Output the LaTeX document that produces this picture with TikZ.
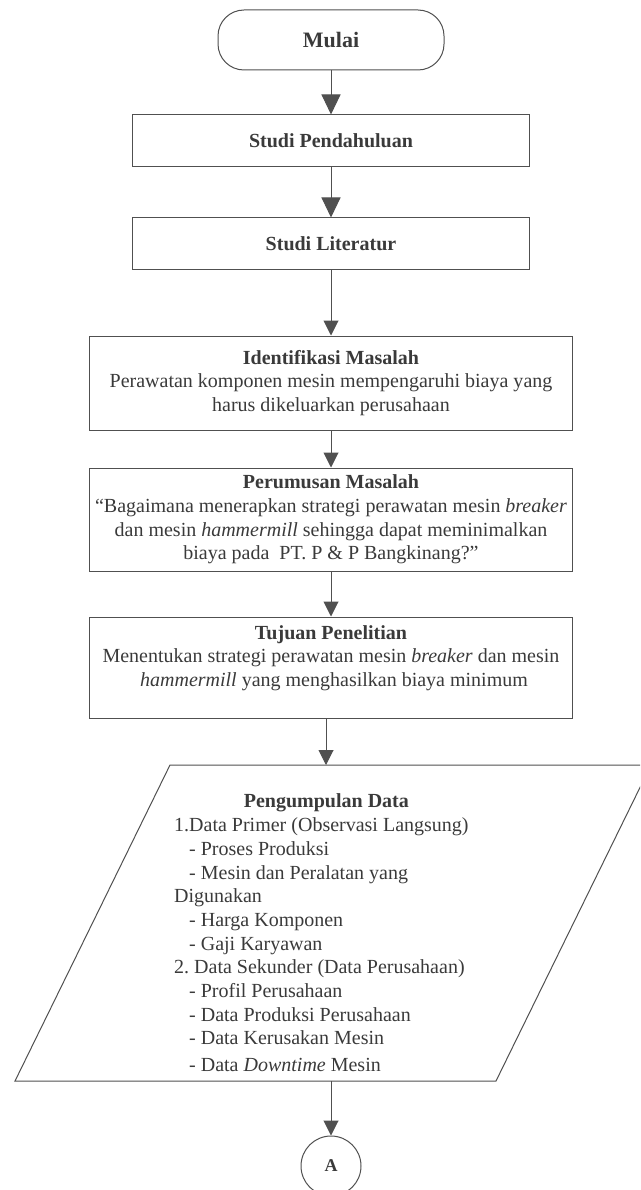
\documentclass[tikz,border=0pt]{standalone}
\usepackage{fontspec}
\setmainfont{Liberation Serif}
\usetikzlibrary{arrows.meta,positioning}
\definecolor{inkgray}{HTML}{3A3A3A}
\definecolor{linegray}{HTML}{505050}

\begin{document}
\begin{tikzpicture}[x=1pt,y=-1pt,
  box/.style={draw=linegray,line width=1pt,text=inkgray,align=center,
    font=\fontsize{20}{23.6}\selectfont,inner sep=0pt},
  terminal/.style={box,rounded corners=26pt,minimum width=226pt,minimum height=60pt,
    font=\fontsize{22}{26}\selectfont},
  connector/.style={circle,draw=linegray,line width=1pt,text=inkgray,minimum size=60pt,
    inner sep=0pt,font=\fontsize{18}{22}\selectfont},
  flow/.style={draw=linegray,line width=1pt,-{Triangle[length=15pt,width=15pt]}},
  bigflow/.style={flow,-{Triangle[length=20pt,width=19pt]}}]
 \useasboundingbox (0,0) rectangle (640,1190);
 \clip (0,0) rectangle (640,1190);
 %NODES
 \node[terminal] (mulai) at (331,40) {\textbf{Mulai}};
 \node[box,minimum width=397pt,minimum height=52pt] (pendahuluan) at (331,141) {\textbf{Studi Pendahuluan}};
 \node[box,minimum width=397pt,minimum height=51pt] (literatur) at (331,243.5) {\textbf{Studi Literatur}};
 \node[box,minimum width=483pt,minimum height=94pt] (identifikasi) at (331,383)
   {\textbf{Identifikasi Masalah}\\Perawatan komponen mesin mempengaruhi biaya yang\\harus dikeluarkan perusahaan};
 \node[box,minimum width=483pt,minimum height=103pt] (perumusan) at (331,519.5)
   {\textbf{Perumusan Masalah}\\``Bagaimana menerapkan strategi perawatan mesin \textit{breaker}\\
    dan mesin \textit{hammermill} sehingga dapat meminimalkan\\biaya pada~ PT. P \& P Bangkinang?''};
 \node[box,minimum width=483pt,minimum height=101pt] (tujuan) at (331,667.5)
   {\textbf{Tujuan Penelitian}\\Menentukan strategi perawatan mesin \textit{breaker} dan mesin\\
    \hspace{6pt}\textit{hammermill} yang menghasilkan biaya minimum\\\mbox{}};
 %DATA
 \draw[draw=linegray,line width=1pt] (15,1081) -- (170,765) -- (651,765) -- (496,1081) -- cycle;
 \coordinate (datatop) at (326,765);
 \coordinate (databot) at (331,1081);
 \node[anchor=west,inner sep=0pt,text=inkgray,font=\fontsize{20}{23.7}\selectfont] (data) at (174,935)
   {\begin{tabular}{@{}l@{}}
    \multicolumn{1}{c}{\hspace{10pt}\textbf{Pengumpulan Data}}\\
    1.Data Primer (Observasi Langsung)\\
    \hspace{15pt}- Proses Produksi\\
    \hspace{15pt}- Mesin dan Peralatan yang\\
    Digunakan\\
    \hspace{15pt}- Harga Komponen\\
    \hspace{15pt}- Gaji Karyawan\\
    2.\ Data Sekunder (Data Perusahaan)\\
    \hspace{15pt}- Profil Perusahaan\\
    \hspace{15pt}- Data Produksi Perusahaan\\
    \hspace{15pt}- Data Kerusakan Mesin\\[3pt]
    \hspace{15pt}- Data \textit{Downtime} Mesin
   \end{tabular}};
 \node[connector] (sambung) at (331,1166) {\textbf{A}};
 %EDGES
 \draw[bigflow] (mulai) -- (pendahuluan);
 \draw[bigflow] (pendahuluan) -- (literatur);
 \draw[flow] (literatur) -- (identifikasi);
 \draw[flow] (identifikasi) -- (perumusan);
 \draw[flow] (perumusan) -- (tujuan);
 \draw[flow] ([xshift=-5pt]tujuan.south) -- (datatop);
 \draw[flow] (databot) -- (sambung);
\end{tikzpicture}
\end{document}
